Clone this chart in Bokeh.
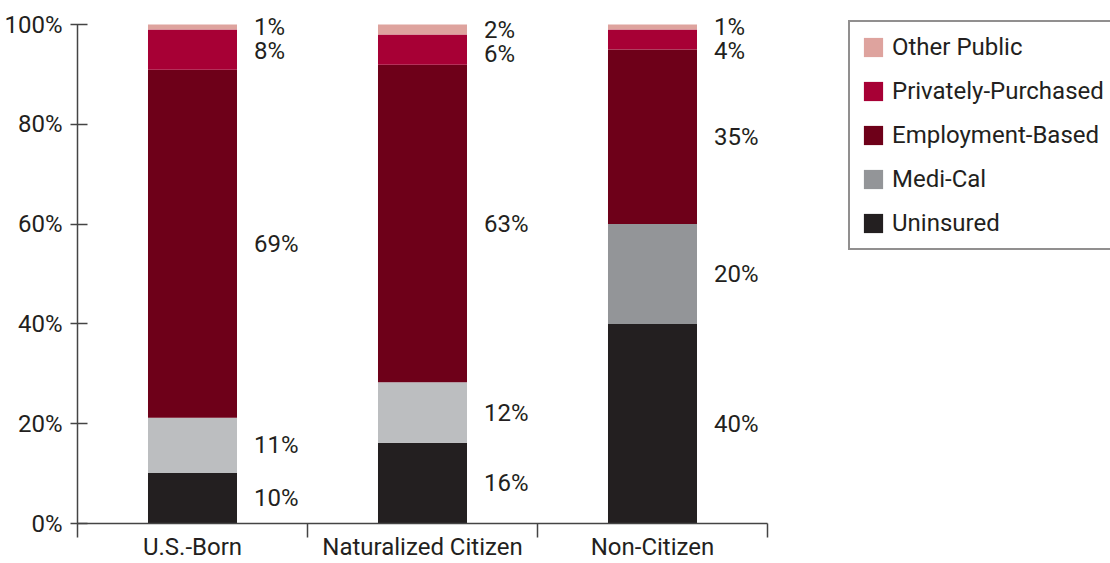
from bokeh.plotting import figure
from bokeh.models import (ColumnDataSource, Legend, LegendItem, FixedTicker,
                          PrintfTickFormatter, Range1d, LinearAxis)
from bokeh.core.properties import value
from bokeh.embed import file_html
from bokeh.resources import INLINE

# ---------------- data ----------------
categories = ["U.S.-Born", "Naturalized Citizen", "Non-Citizen"]
uninsured = [10, 16, 40]
medi_cal = [11, 12, 20]
employment_based = [69, 63, 35]
privately_purchased = [8, 6, 4]
other_public = [1, 2, 1]
y_tick_values = [0, 20, 40, 60, 80, 100]

series_names = ["Uninsured", "Medi-Cal", "Employment-Based",
                "Privately-Purchased", "Other Public"]
series_values = [uninsured, medi_cal, employment_based,
                 privately_purchased, other_public]
series_colors = [
    ["#231f20", "#231f20", "#231f20"],
    ["#bcbec0", "#bcbec0", "#939598"],
    ["#6e0019", "#6e0019", "#6e0019"],
    ["#a70035", "#a70035", "#a70035"],
    ["#dea39e", "#dea39e", "#dea39e"],
]

# ---------------- style ----------------
FONT = "Roboto"
TEXT = "#231f20"
FS = "24px"

W, H = 1110, 563
LEFT, TOP, BOTTOM = 77, 4, 40
plot_px_w = 690.0   # width of the axis area holding the 3 categories
frame_w = W - LEFT
frame_h = H - TOP - BOTTOM
axis_px_h = 499.0

p = figure(width=W, height=H, output_backend="svg", toolbar_location=None,
           x_range=Range1d(0, 3 * frame_w / plot_px_w),
           y_range=Range1d(0, 100 * frame_h / axis_px_h),
           min_border_left=LEFT, min_border_right=0, min_border_top=TOP,
           min_border_bottom=BOTTOM, x_axis_type=None, y_axis_type=None)
p.outline_line_color = None
p.xgrid.visible = False
p.ygrid.visible = False
p.background_fill_color = "white"
p.border_fill_color = "white"

# ---------------- axes ----------------
yax = LinearAxis(bounds=(0, 100), ticker=FixedTicker(ticks=y_tick_values),
                 formatter=PrintfTickFormatter(format="%d%%"))
yax.axis_line_color = "#444444"
yax.axis_line_width = 1.5
yax.major_tick_line_color = "#444444"
yax.major_tick_line_width = 1.5
yax.major_tick_in = 10
yax.major_tick_out = 7
yax.minor_tick_line_color = None
yax.major_label_standoff = 8
yax.major_label_text_font = FONT
yax.major_label_text_font_size = FS
yax.major_label_text_color = TEXT
p.add_layout(yax, "left")

n = len(categories)
centers = [i + 0.5 for i in range(n)]
xax = LinearAxis(bounds=(0, n),
                 ticker=FixedTicker(ticks=centers, minor_ticks=list(range(n + 1))),
                 major_label_overrides={c: lab for c, lab in zip(centers, categories)})
xax.axis_line_color = "#444444"
xax.axis_line_width = 1.5
xax.major_tick_line_color = None
xax.major_tick_in = 0
xax.major_tick_out = 0
xax.minor_tick_line_color = "#444444"
xax.minor_tick_line_width = 1.5
xax.minor_tick_in = 0
xax.minor_tick_out = 14
xax.major_label_standoff = -5
xax.major_label_text_font = FONT
xax.major_label_text_font_size = FS
xax.major_label_text_color = TEXT
p.add_layout(xax, "below")

# ---------------- bars ----------------
bar_w = 0.387
min_gap = 4.9          # minimum vertical distance between stacked labels (in %)
totals = [sum(s[i] for s in series_values) for i in range(n)]
bottoms = [0.0] * n
stack = []
for name, vals, cols in zip(series_names, series_values, series_colors):
    norm = [v * 100.0 / t for v, t in zip(vals, totals)]
    tops = [b + v for b, v in zip(bottoms, norm)]
    stack.append((name, vals, cols, list(bottoms), tops))
    bottoms = tops

# label positions: segment centres, pushed down so labels never overlap
label_y = {}
prev = [100.2 + min_gap] * n
for name, vals, cols, bots, tops in reversed(stack):
    ys = [min((b + t) / 2, pv - min_gap) for b, t, pv in zip(bots, tops, prev)]
    label_y[name] = ys
    prev = ys

items = {}
for name, vals, cols, bots, tops in stack:
    src = ColumnDataSource(dict(
        x=centers, bottom=bots, top=tops, color=cols,
        lx=[c + bar_w / 2 for c in centers],
        ly=label_y[name],
        label=["%d%%" % v for v in vals],
    ))
    r = p.vbar(x="x", bottom="bottom", top="top", width=bar_w, fill_color="color",
               line_color=None, source=src)
    p.text(x="lx", y="ly", text="label", source=src, x_offset=17,
           text_font=value(FONT), text_font_size=FS, text_color=TEXT,
           text_align="left", text_baseline="middle")
    items[name] = r

legend_items = []
for name in reversed(series_names):
    legend_items.append(LegendItem(label=name, renderers=[items[name]], index=2))

legend = Legend(items=legend_items, location=(848 - LEFT, (H - BOTTOM) - 250))
legend.glyph_width = 24
legend.glyph_height = 24
legend.label_height = 24
legend.label_width = 235
legend.spacing = 16
legend.padding = 11
legend.margin = 0
legend.label_standoff = 7
legend.label_text_font = FONT
legend.label_text_font_size = FS
legend.label_text_color = TEXT
legend.label_text_baseline = "middle"
legend.border_line_color = TEXT
legend.border_line_width = 2
legend.background_fill_color = "white"
legend.background_fill_alpha = 1
p.add_layout(legend, "center")

open("out.html", "w").write(file_html(p, INLINE))
